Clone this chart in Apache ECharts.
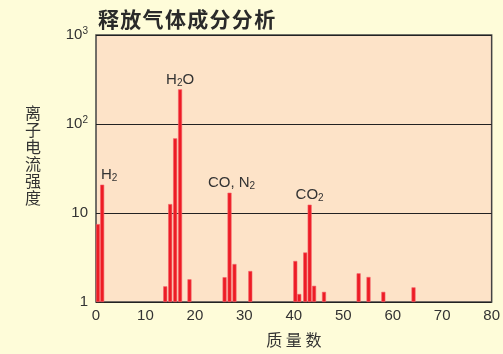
<!DOCTYPE html>
<html>
<head>
<meta charset="utf-8">
<script src="https://cdn.jsdelivr.net/npm/echarts@6/dist/echarts.min.js"></script>
<style>
  html, body { margin: 0; padding: 0; background: #fefcd9; }
  #main { width: 503px; height: 354px; }
</style>
</head>
<body>
<div id="main"></div>
<script>
// mass numbers (x) and ion current (log y)
var masses = [0.4, 1.25, 14, 15, 16, 17, 18.9, 26, 27, 28, 31.2, 40.3, 41.1, 42.3, 43.2, 44.1, 46.1, 53.1, 55.1, 58.1, 64.2]
var currents = [7.5, 20.8, 1.5, 12.6, 69, 245, 1.8, 1.9, 16.9, 2.67, 2.23, 2.89, 1.23, 3.6, 12.4, 1.52, 1.3, 2.1, 1.91, 1.3, 1.46]
var xTicks = [0, 10, 20, 30, 40, 50, 60, 70, 80]
var yTicks = [1, 10, 100, 1000]
// peak labels: index into masses -> rich text
var peakLabels = {
  1: { text: '{a|H}{s|2}', offset: [7, 0] },
  5: { text: '{a|H}{s|2}{a|O}', offset: [0, 0] },
  8: { text: '{a|CO, N}{s|2}', offset: [2, 0] },
  14: { text: '{a|CO}{s|2}', offset: [0, 0] }
}

var rich = {
  a: { fontSize: 15, color: '#333', fontFamily: 'Liberation Sans', lineHeight: 18 },
  s: { fontSize: 10, color: '#333', fontFamily: 'Liberation Sans', lineHeight: 18, verticalAlign: 'bottom', padding: [7, 0, 0, 0] },
  n: { fontSize: 15, color: '#333', fontFamily: 'Liberation Sans', lineHeight: 18 },
  p: { fontSize: 10, color: '#333', fontFamily: 'Liberation Sans', lineHeight: 18, verticalAlign: 'top', padding: [0, 0, 8, 0] }
}

var barData = masses.map(function (m, i) {
  var item = { value: [m, currents[i]] }
  if (peakLabels[i]) {
    item.label = {
      show: true,
      position: 'top',
      distance: 1,
      offset: peakLabels[i].offset,
      formatter: peakLabels[i].text,
      rich: rich
    }
  }
  return item
})

var chart = echarts.init(document.getElementById('main'))
chart.setOption({
  backgroundColor: '#fefcd9',
  animation: false,
  title: {
    text: '释\u200a放\u200a气\u200a体\u200a成\u200a分\u200a分\u200a析',
    left: 93,
    top: 4,
    textStyle: {
      fontFamily: 'Noto Sans CJK SC',
      fontWeight: 'bold',
      fontSize: 21,
      color: '#2a2a2a'
    }
  },
  grid: {
    left: 96,
    right: 8,
    top: 35,
    bottom: 52,
    show: true,
    backgroundColor: '#fde3c8',
    borderColor: '#444',
    borderWidth: 1.5
  },
  xAxis: {
    type: 'value',
    min: 0,
    max: 80,
    interval: 10,
    axisLine: { show: false },
    axisTick: { show: false },
    splitLine: { show: false },
    axisLabel: {
      margin: 6,
      fontSize: 15,
      fontFamily: 'Liberation Sans',
      color: '#333',
      customValues: xTicks
    },
    name: '质 量 数',
    nameLocation: 'middle',
    nameGap: 30,
    nameTextStyle: { fontSize: 16, color: '#333', fontFamily: 'Noto Sans CJK SC' }
  },
  yAxis: {
    type: 'log',
    logBase: 10,
    min: 1,
    max: 1000,
    axisLine: { show: false },
    axisTick: { show: false },
    splitLine: { show: true, lineStyle: { color: '#222', width: 1 } },
    axisLabel: {
      margin: 8,
      customValues: yTicks,
      formatter: function (v) {
        if (v === 1) return '{n|1}'
        if (v === 10) return '{n|10}'
        if (v === 100) return '{n|10}{p|2}'
        return '{n|10}{p|3}'
      },
      rich: rich
    }
  },
  graphic: [{
    type: 'text',
    left: 25,
    top: 104,
    style: {
      text: '离\n子\n电\n流\n强\n度',
      fontSize: 16,
      lineHeight: 17,
      fill: '#333',
      fontFamily: 'Noto Sans CJK SC'
    }
  }],
  series: [{
    type: 'bar',
    barWidth: 4,
    data: barData,
    itemStyle: { color: '#ed1c24', borderColor: '#f4606a', borderWidth: 0.6 }
  }]
})
</script>
</body>
</html>
